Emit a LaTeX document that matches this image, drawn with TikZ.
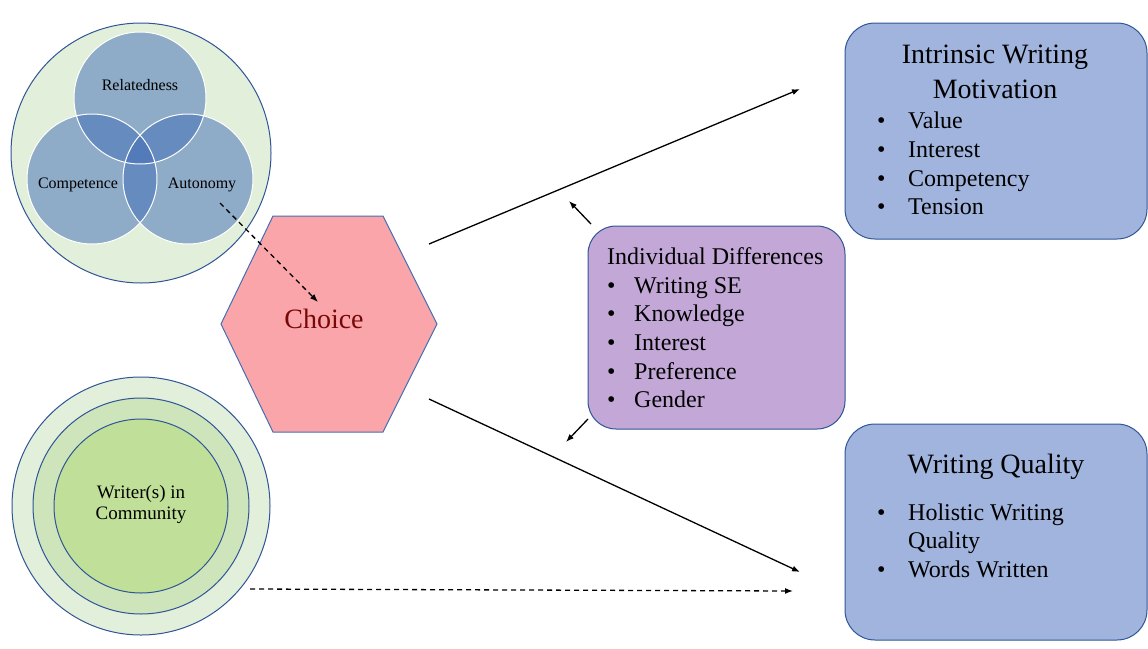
\documentclass[tikz,border=0pt]{standalone}
\usepackage{fontspec}
\setmainfont{Liberation Serif}
\usetikzlibrary{arrows.meta}
\definecolor{bord}{RGB}{47,85,151}
\definecolor{bgreen}{RGB}{226,239,218}
\definecolor{mgreen}{RGB}{206,229,188}
\definecolor{igreen}{RGB}{192,223,152}
\definecolor{venn}{RGB}{66,110,183}
\definecolor{hexfill}{RGB}{250,165,170}
\definecolor{hexbord}{RGB}{68,110,180}
\definecolor{choicered}{RGB}{120,8,8}
\definecolor{bluebox}{RGB}{160,180,222}
\definecolor{purplebox}{RGB}{195,168,215}
\tikzset{
  roundbox/.style={draw=bord, line width=1pt, inner sep=0pt},
  ring/.style={draw=bord, line width=1pt},
  vennc/.style={fill=venn, fill opacity=0.52},
  txt/.style={inner sep=0pt, text=black},
  f16/.style={font=\fontsize{16}{19}\selectfont},
  f19/.style={font=\fontsize{19}{23}\selectfont},
  f24/.style={font=\fontsize{24}{29}\selectfont},
  f28/.style={font=\fontsize{28}{34}\selectfont},
  arr/.style={line width=1.3pt, -{Latex[length=8pt,width=6pt]}},
  darr/.style={line width=1.3pt, dash pattern=on 5pt off 4pt, -{Latex[length=8pt,width=6pt]}},
}
\newcommand{\bul}[1]{\makebox[31pt][l]{\textbullet}#1}
\newcommand{\bulb}[1]{\makebox[27pt][l]{\textbullet}#1}
\begin{document}
\begin{tikzpicture}[x=1pt,y=-1pt]
\useasboundingbox (0,0) rectangle (1148,648);

% --- Venn diagram (top left)
\fill[bgreen] (141,153) circle (130);
\draw[ring] (141,153) circle (130);
\fill[vennc] (140,98) circle (66);
\fill[vennc] (92,179) circle (65);
\fill[vennc] (188,179) circle (65);
\draw[white, line width=1pt] (140,98) circle (66);
\draw[white, line width=1pt] (92,179) circle (65);
\draw[white, line width=1pt] (188,179) circle (65);
\node[txt, f16, anchor=base] (rel) at (140,90) {Relatedness};
\node[txt, f16, anchor=base] (comp) at (78,188) {Competence};
\node[txt, f16, anchor=base] (auto) at (202,188) {Autonomy};

% --- Concentric circles (bottom left)
\draw[ring, fill=bgreen] (141,506) circle (129);
\draw[ring, fill=mgreen] (141,506) circle (108);
\draw[ring, fill=igreen] (141,506) circle (87);
\node[txt, f19, anchor=base] (wr1) at (141,498) {Writer(s) in};
\node[txt, f19, anchor=base] (wr2) at (141,519) {Community};

% --- Hexagon
\draw[draw=hexbord, line width=1pt, fill=hexfill]
  (221,324) -- (273,216) -- (383,216) -- (437,324) -- (383,432) -- (273,432) -- cycle;
\node[txt, f28, anchor=base, text=choicered] (choice) at (324,328) {Choice};

% --- Boxes
\node[roundbox, fill=bluebox, rounded corners=30pt, minimum width=302pt, minimum height=216pt] (iwm) at (996,131) {};
\node[roundbox, fill=bluebox, rounded corners=30pt, minimum width=302pt, minimum height=216pt] (wq) at (996,532) {};
\node[roundbox, fill=purplebox, rounded corners=28pt, minimum width=257pt, minimum height=203pt] (idf) at (716.5,327.5) {};

% Intrinsic text
\node[txt, f28, anchor=base] (iwm1) at (995,63) {Intrinsic Writing};
\node[txt, f28, anchor=base] (iwm2) at (995,98) {Motivation};
\node[txt, f24, anchor=base west] (iwmb1) at (877,128) {\bul{Value}};
\node[txt, f24, anchor=base west] (iwmb2) at (877,157) {\bul{Interest}};
\node[txt, f24, anchor=base west] (iwmb3) at (877,186) {\bul{Competency}};
\node[txt, f24, anchor=base west] (iwmb4) at (877,214) {\bul{Tension}};

% Writing quality text
\node[txt, f28, anchor=base] (wq1) at (996,473) {Writing Quality};
\node[txt, f24, anchor=base west] (wqb1) at (877,520) {\bul{Holistic Writing}};
\node[txt, f24, anchor=base west] (wqb2) at (908,548) {Quality};
\node[txt, f24, anchor=base west] (wqb3) at (877,577) {\bul{Words Written}};

% Individual differences text
\node[txt, f24, anchor=base west] (idt) at (607,264) {Individual Differences};
\node[txt, f24, anchor=base west] (idb1) at (607,293) {\bulb{Writing SE}};
\node[txt, f24, anchor=base west] (idb2) at (607,321) {\bulb{Knowledge}};
\node[txt, f24, anchor=base west] (idb3) at (607,350) {\bulb{Interest}};
\node[txt, f24, anchor=base west] (idb4) at (607,379) {\bulb{Preference}};
\node[txt, f24, anchor=base west] (idb5) at (607,407) {\bulb{Gender}};

% --- Connector end points
\coordinate (hexUR) at (429,244);
\coordinate (toIWM) at (800,89);
\coordinate (hexLR) at (429,399);
\coordinate (toWQ) at (800,572);
\coordinate (commR) at (250,589);
\coordinate (toWQd) at (793,591);
\coordinate (autoS) at (220,203);
\coordinate (choiceT) at (318,302);
\coordinate (idUL) at (591,224);
\coordinate (idULt) at (569,201);
\coordinate (idLL) at (588,419);
\coordinate (idLLt) at (566,442);

\draw[arr] (hexUR) -- (toIWM);
\draw[arr] (hexLR) -- (toWQ);
\draw[darr] (commR) -- (toWQd);
\draw[darr] (autoS) -- (choiceT);
\draw[arr] (idUL) -- (idULt);
\draw[arr] (idLL) -- (idLLt);
\end{tikzpicture}
\end{document}
